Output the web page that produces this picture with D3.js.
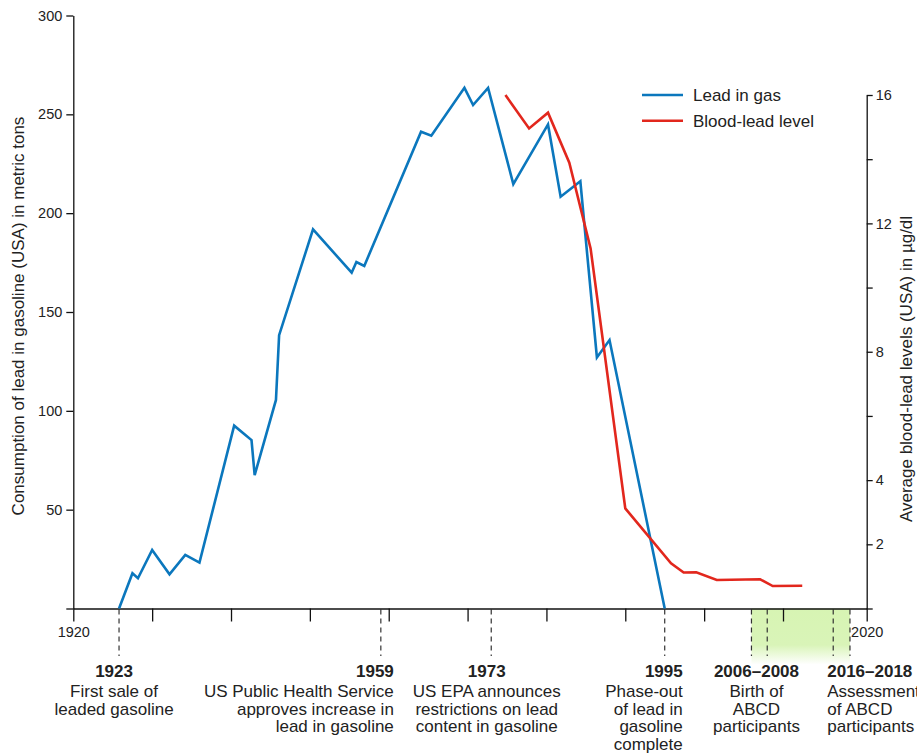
<!DOCTYPE html>
<html>
<head>
	<meta charset="utf-8">
	<title>Lead in gasoline and blood-lead levels</title>
	<script src="https://cdnjs.cloudflare.com/ajax/libs/d3/7.8.5/d3.min.js"></script>
	<style type="text/css">
		body{
			margin: 0;
			padding: 0;
			background: #fff;
		}
		svg{
			display: block;
			font-family: "Liberation Sans", Arial, Helvetica, sans-serif;
		}
		.axis path, .axis line{
			stroke: #111;
			stroke-width: 1.3;
		}
		.axis text{
			font-size: 14.5px;
			fill: #222;
		}
	</style>
</head>
<body>
	<svg id="svg" width="917" height="755"></svg>
	<script type="text/javascript">
		// lead in gasoline (metric tons)
		const leadYears  = [1925.8, 1927.5, 1928.2, 1930.0, 1932.2, 1934.2, 1936.0, 1940.4, 1942.6, 1943.0,
		                    1945.7, 1946.1, 1950.4, 1955.3, 1955.9, 1956.9, 1964.1, 1965.4, 1969.6, 1970.7,
		                    1972.6, 1975.8, 1980.2, 1981.8, 1984.3, 1986.4, 1988.0, 1995.0];
		const leadValues = [0, 17.8, 15.3, 29.6, 17.3, 27.1, 23.2, 92.5, 85.2, 67.5,
		                    105.5, 138.3, 191.8, 169.9, 175.3, 173.3, 241.2, 239.2, 263.4, 254.7,
		                    263.4, 214.7, 244.9, 208.3, 216.1, 127.0, 135.8, 0];

		// average blood-lead level (µg/dl)
		const bloodYears  = [1974.8, 1977.8, 1980.2, 1982.9, 1985.6, 1990.0, 1995.8, 1997.4, 1999.0, 2001.6, 2007.1, 2008.7, 2012.3];
		const bloodValues = [16.0, 14.96, 15.45, 13.89, 11.22, 3.12, 1.41, 1.12, 1.13, 0.89, 0.91, 0.70, 0.71];

		const xTickValues = d3.range(1920, 2021, 10);
		const xTickLabels = ["1920", "2020"];
		const leftTicks = [0, 50, 100, 150, 200, 250, 300];
		const rightTicks = [0, 2, 4, 6, 8, 10, 12, 14, 16];
		const rightTickLabels = [2, 4, 8, 12, 16];

		const seriesNames = ["Lead in gas", "Blood-lead level"];
		const abcdPeriod = [2006, 2018];
		const markerYears = [leadYears[0], 1959, 1973, 1995, 2006, 2008, 2016, 2018];

		const eventTitles = ["1923", "1959", "1973", "1995", "2006\u20132008", "2016\u20132018"];
		const eventYears = [leadYears[0], 1959, 1973, 1995, 2006, 2016];
		const eventTexts = [
			["First sale of", "leaded gasoline"],
			["US Public Health Service", "approves increase in", "lead in gasoline"],
			["US EPA announces", "restrictions on lead", "content in gasoline"],
			["Phase-out", "of lead in", "gasoline", "complete"],
			["Birth of", "ABCD", "participants"],
			["Assessment", "of ABCD", "participants"]
		];
		// text placement relative to the marker line
		const eventLayout = [
			{dx: -5, anchor: "middle"},
			{dx: 13, anchor: "end"},
			{dx: -4.5, anchor: "middle"},
			{dx: 18, anchor: "end"},
			{dx: 5, anchor: "middle"},
			{dx: -6, anchor: "start"}
		];

		const colors = {lead: "#0b77bd", blood: "#e2271d", text: "#222"};

		const svg = d3.select("#svg");
		const baseY = 608.5;

		// the reference axis is slightly stretched in the last decade
		const x = d3.scaleLinear().domain([1920, 2010, 2020]).range([73.3, 783, 866.7]);
		const yL = d3.scaleLinear().domain([0, 300]).range([baseY, 15.5]);
		const yR = d3.scaleLinear().domain([0, 16]).range([baseY, 95]);

		// green shade for the ABCD period
		const defs = svg.append("defs");
		const grad = defs.append("linearGradient")
			.attr("id", "abcdFade")
			.attr("x1", 0).attr("y1", 0).attr("x2", 0).attr("y2", 1);
		grad.append("stop").attr("offset", "0%").attr("stop-color", "#d7f4b3");
		grad.append("stop").attr("offset", "65%").attr("stop-color", "#d9f4b8");
		grad.append("stop").attr("offset", "100%").attr("stop-color", "#ffffff");

		svg.append("rect")
			.attr("x", x(abcdPeriod[0]))
			.attr("y", baseY)
			.attr("width", x(abcdPeriod[1]) - x(abcdPeriod[0]))
			.attr("height", 56)
			.attr("fill", "url(#abcdFade)");

		// marker lines
		svg.append("g").selectAll("line")
			.data(markerYears)
			.join("line")
			.attr("x1", d => x(d)).attr("x2", d => x(d))
			.attr("y1", baseY + 1).attr("y2", 656)
			.attr("stroke", "#333")
			.attr("stroke-width", 1.2)
			.attr("stroke-dasharray", "5,4");

		// axes
		svg.append("g")
			.attr("class", "axis")
			.attr("transform", "translate(0," + baseY + ")")
			.call(d3.axisBottom(x)
				.tickValues(xTickValues)
				.tickSize(13)
				.tickSizeOuter(0)
				.tickPadding(5)
				.tickFormat(d => xTickLabels.includes(String(d)) ? d : ""));

		svg.append("g")
			.attr("class", "axis")
			.attr("transform", "translate(" + x(1920) + ",0)")
			.call(d3.axisLeft(yL)
				.tickValues(leftTicks)
				.tickSize(7)
				.tickSizeOuter(0)
				.tickPadding(4)
				.tickFormat(d => d === 0 ? "" : d));

		svg.append("g")
			.attr("class", "axis")
			.attr("transform", "translate(" + x(2020) + ",0)")
			.call(d3.axisRight(yR)
				.tickValues(rightTicks)
				.tickSize(6)
				.tickSizeOuter(0)
				.tickPadding(3)
				.tickFormat(d => rightTickLabels.includes(d) ? d : ""));

		svg.selectAll(".axis .domain").attr("stroke", "#111");

		// axis titles
		svg.append("text")
			.attr("transform", "translate(24,316) rotate(-90)")
			.attr("text-anchor", "middle")
			.style("font-size", "17px")
			.style("fill", colors.text)
			.text("Consumption of lead in gasoline (USA) in metric tons");

		svg.append("text")
			.attr("transform", "translate(912,369) rotate(-90)")
			.attr("text-anchor", "middle")
			.style("font-size", "17px")
			.style("fill", colors.text)
			.text("Average blood-lead levels (USA) in \u00b5g/dl");

		// series
		const leadLine = d3.line().x(d => x(d[0])).y(d => yL(d[1]));
		const bloodLine = d3.line().x(d => x(d[0])).y(d => yR(d[1]));

		svg.append("path")
			.datum(d3.zip(leadYears, leadValues))
			.attr("d", leadLine)
			.attr("fill", "none")
			.attr("stroke", colors.lead)
			.attr("stroke-width", 2.6)
			.attr("stroke-linejoin", "miter");

		svg.append("path")
			.datum(d3.zip(bloodYears, bloodValues))
			.attr("d", bloodLine)
			.attr("fill", "none")
			.attr("stroke", colors.blood)
			.attr("stroke-width", 2.6)
			.attr("stroke-linejoin", "miter");

		// legend
		const legend = svg.append("g").attr("transform", "translate(642,95)");
		seriesNames.forEach(function(name, i){
			const row = legend.append("g").attr("transform", "translate(0," + (i * 25.7) + ")");
			row.append("line")
				.attr("x1", 0).attr("x2", 41)
				.attr("stroke", i === 0 ? colors.lead : colors.blood)
				.attr("stroke-width", 2.6);
			row.append("text")
				.attr("x", 51).attr("y", 6)
				.style("font-size", "17px")
				.style("fill", colors.text)
				.text(name);
		});

		// event annotations
		eventTitles.forEach(function(title, i){
			const lay = eventLayout[i];
			const g = svg.append("g")
				.attr("transform", "translate(" + (x(eventYears[i]) + lay.dx) + ",0)")
				.attr("text-anchor", lay.anchor)
				.style("fill", colors.text);
			g.append("text")
				.attr("y", 676.5)
				.style("font-size", "17px")
				.style("font-weight", "bold")
				.text(title);
			eventTexts[i].forEach(function(t, j){
				g.append("text")
					.attr("y", 697 + j * 17.6)
					.style("font-size", "17px")
					.text(t);
			});
		});
	</script>
</body>
</html>
